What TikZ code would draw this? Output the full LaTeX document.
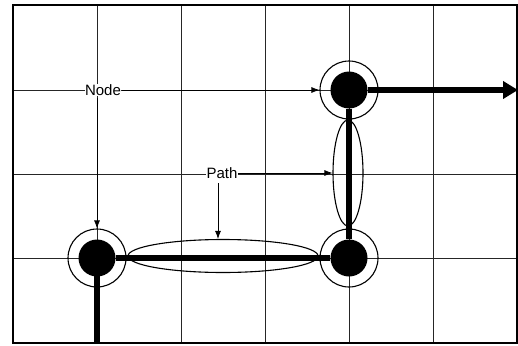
\documentclass[tikz,border=0pt]{standalone}
\usepackage{fontspec}
\setmainfont{Liberation Sans}
\usetikzlibrary{arrows.meta,shapes.geometric}
\begin{document}
\begin{tikzpicture}[x=1pt,y=-1pt,
  gridline/.style={draw=black!85, line width=0.8pt},
  hub/.style={circle, fill=black, minimum size=37pt, inner sep=0pt},
  ring/.style={circle, draw, line width=1.1pt, minimum size=58pt, inner sep=0pt},
  link/.style={line width=5.5pt},
  lens/.style={ellipse, draw, line width=1.1pt, inner sep=0pt},
  lbl/.style={font=\fontsize{15}{18}\selectfont, fill=white, inner sep=0.5pt},
  pointer/.style={-{Latex[length=8pt,width=6pt]}, line width=0.8pt}]
\useasboundingbox (0,0) rectangle (518,345);
% grid
\foreach \x in {97,181,265,349,433} \draw[gridline] (\x,5) -- (\x,343);
\foreach \y in {90,174,258} \draw[gridline] (13,\y) -- (517,\y);
\draw[line width=1.2pt] (13,5) rectangle (517,343);
% path lenses
\node[lens, minimum width=190pt, minimum height=33pt] (lensH) at (223,256) {};
\node[lens, minimum width=30pt, minimum height=106pt] (lensV) at (348,173) {};
% nodes
\node[ring] (ringBL) at (97,258) {};
\node[ring] (ringBR) at (349,258) {};
\node[ring] (ringTR) at (349,90) {};
\node[hub] (hubBL) at (97,258) {};
\node[hub] (hubBR) at (349,258) {};
\node[hub] (hubTR) at (349,90) {};
\coordinate (bottomEnd) at (97,343);
\coordinate (rightEnd) at (518,90);
% links
\draw[link] (hubBL.center) -- (bottomEnd);
\draw[link] (hubBL) -- (hubBR);
\draw[link] (hubBR) -- (hubTR);
\draw[link, -{Triangle[length=15pt,width=17pt]}] (hubTR) -- (rightEnd);
% labels
\node[lbl] (nodelbl) at (103,90) {Node};
\node[lbl] (pathlbl) at (222,173) {Path};
\draw[pointer] (nodelbl) -- (ringTR);
\draw[pointer] ([yshift=-2pt]nodelbl.south -| ringBL) -- (ringBL.north);
\draw[pointer] (pathlbl) -- (lensV);
\draw[pointer] ([xshift=-4pt,yshift=-4pt]pathlbl.south) -- ([xshift=-4pt]pathlbl.south |- lensH.north);
\end{tikzpicture}
\end{document}
